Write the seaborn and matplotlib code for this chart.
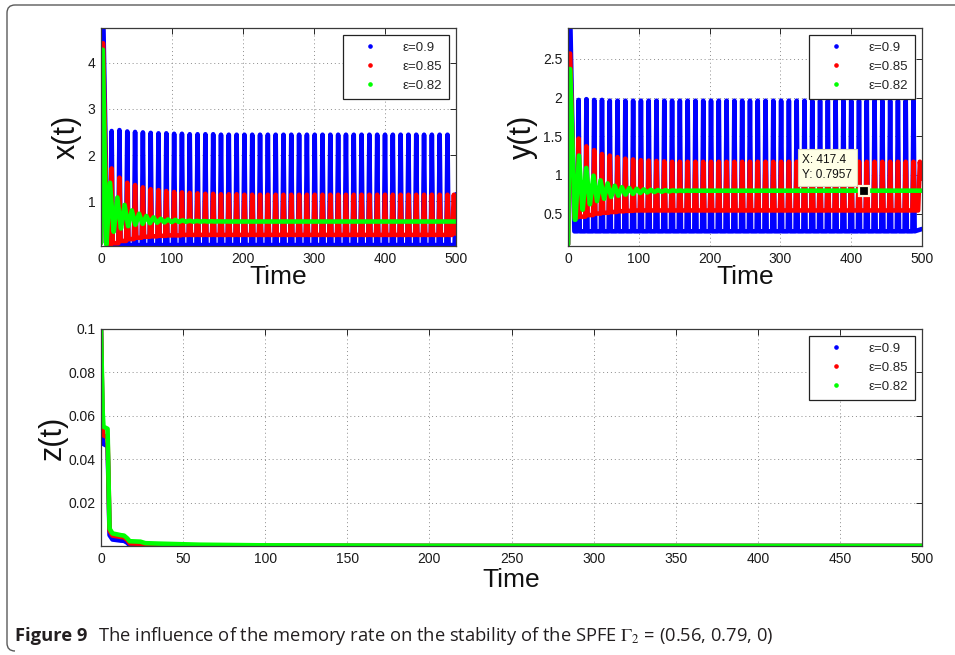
import matplotlib
matplotlib.use("Agg")
import matplotlib.pyplot as plt
import seaborn as sns
import numpy as np
import pandas as pd
from matplotlib.lines import Line2D
from matplotlib.path import Path
from matplotlib.patches import PathPatch

# ---------------- data ----------------
labels = ["ε=0.9", "ε=0.85", "ε=0.82"]
colors = ["#0000ff", "#ff0000", "#00ff00"]

# times of the oscillation peaks (blue / red)
cycle_t = [15, 26, 37, 48, 59, 70, 81, 92, 103, 114, 125, 136, 147, 158, 169,
           180, 191, 202, 213, 224, 235, 246, 257, 268, 279, 290, 301, 312,
           323, 334, 345, 356, 367, 378, 389, 400, 411, 422, 433, 444, 455,
           466, 477, 488]

# ---- x(t) ----
xb_init_t = [0, 3.5, 9]
xb_init_v = [0.10, 4.72, 0.05]
xb_peaks = [2.52, 2.54, 2.51, 2.50, 2.49, 2.48, 2.47, 2.47, 2.46, 2.46, 2.45,
            2.45, 2.45, 2.45, 2.44, 2.44, 2.44, 2.44, 2.44, 2.44, 2.44, 2.44,
            2.44, 2.44, 2.44, 2.44, 2.44, 2.44, 2.44, 2.44, 2.44, 2.44, 2.44,
            2.44, 2.44, 2.44, 2.44, 2.44, 2.44, 2.44, 2.44, 2.44, 2.44, 2.44]
xb_troughs = [0.05, 0.05, 0.05, 0.05, 0.05, 0.05, 0.05, 0.05, 0.05, 0.05, 0.05,
              0.05, 0.05, 0.05, 0.05, 0.05, 0.05, 0.05, 0.05, 0.05, 0.05, 0.05,
              0.05, 0.05, 0.05, 0.05, 0.05, 0.05, 0.05, 0.05, 0.05, 0.05, 0.05,
              0.05, 0.05, 0.05, 0.05, 0.05, 0.05, 0.05, 0.05, 0.05, 0.05, 0.05]
xb_end_t = [498, 500]
xb_end_v = [0.05, 1.15]

xr_init_t = [0, 3, 8.5]
xr_init_v = [0.10, 4.42, 0.05]
xr_peaks = [1.71, 1.51, 1.40, 1.35, 1.30, 1.26, 1.24, 1.22, 1.20, 1.19, 1.18,
            1.17, 1.16, 1.16, 1.15, 1.15, 1.15, 1.14, 1.14, 1.14, 1.14, 1.14,
            1.14, 1.14, 1.14, 1.14, 1.14, 1.14, 1.14, 1.14, 1.14, 1.14, 1.14,
            1.14, 1.14, 1.14, 1.14, 1.14, 1.14, 1.14, 1.14, 1.14, 1.14, 1.14]
xr_troughs = [0.09, 0.14, 0.18, 0.21, 0.23, 0.24, 0.25, 0.26, 0.26, 0.27, 0.27,
              0.27, 0.27, 0.27, 0.27, 0.27, 0.27, 0.27, 0.27, 0.27, 0.27, 0.27,
              0.27, 0.27, 0.27, 0.27, 0.27, 0.27, 0.27, 0.27, 0.27, 0.27, 0.27,
              0.27, 0.27, 0.27, 0.27, 0.27, 0.27, 0.27, 0.27, 0.27, 0.27, 0.27]
xr_end_t = [494.5, 497, 499.5, 500]
xr_end_v = [0.27, 1.14, 0.30, 0.30]

xg_init_t = [0, 2.5, 7.5]
xg_init_v = [0.10, 4.28, 0.06]
xg_peak_t = [12.7, 23, 33.2, 43.4, 53.6, 63.8, 74, 84.2, 94.4, 104.6, 114.8,
             125, 135.2, 145.4, 155.6, 165.8, 176]
xg_peaks = [1.40, 1.08, 0.92, 0.80, 0.73, 0.68, 0.65, 0.62, 0.605, 0.595,
            0.585, 0.578, 0.573, 0.569, 0.566, 0.564, 0.562]
xg_troughs = [0.34, 0.41, 0.46, 0.49, 0.51, 0.525, 0.535, 0.542, 0.548, 0.552,
              0.555, 0.557, 0.558, 0.559, 0.56, 0.56, 0.56]
xg_end_t = [500]
xg_end_v = [0.56]

# ---- y(t) ----
yb_init_t = [0, 3.5, 9]
yb_init_v = [0.10, 2.88, 0.27]
yb_peaks = [1.97, 1.98, 1.97, 1.97, 1.96, 1.96, 1.96, 1.96, 1.96, 1.96, 1.96,
            1.96, 1.96, 1.96, 1.96, 1.96, 1.96, 1.96, 1.96, 1.96, 1.96, 1.96,
            1.96, 1.96, 1.96, 1.96, 1.96, 1.96, 1.96, 1.96, 1.96, 1.96, 1.96,
            1.96, 1.96, 1.96, 1.96, 1.96, 1.96, 1.96, 1.96, 1.96, 1.96, 1.96]
yb_troughs = [0.27, 0.27, 0.27, 0.27, 0.27, 0.27, 0.27, 0.27, 0.27, 0.27, 0.27,
              0.27, 0.27, 0.27, 0.27, 0.27, 0.27, 0.27, 0.27, 0.27, 0.27, 0.27,
              0.27, 0.27, 0.27, 0.27, 0.27, 0.27, 0.27, 0.27, 0.27, 0.27, 0.27,
              0.27, 0.27, 0.27, 0.27, 0.27, 0.27, 0.27, 0.27, 0.27, 0.27, 0.27]
yb_end_t = [500]
yb_end_v = [0.30]

yr_init_t = [0, 3, 9]
yr_init_v = [0.10, 2.57, 0.45]
yr_peaks = [1.47, 1.37, 1.32, 1.27, 1.25, 1.23, 1.21, 1.20, 1.19, 1.185, 1.18,
            1.175, 1.17, 1.17, 1.17, 1.17, 1.17, 1.17, 1.17, 1.17, 1.17, 1.17,
            1.17, 1.17, 1.17, 1.17, 1.17, 1.17, 1.17, 1.17, 1.17, 1.17, 1.17,
            1.17, 1.17, 1.17, 1.17, 1.17, 1.17, 1.17, 1.17, 1.17, 1.17, 1.17]
yr_troughs = [0.46, 0.48, 0.50, 0.51, 0.52, 0.53, 0.535, 0.54, 0.54, 0.54, 0.54,
              0.54, 0.54, 0.54, 0.54, 0.54, 0.54, 0.54, 0.54, 0.54, 0.54, 0.54,
              0.54, 0.54, 0.54, 0.54, 0.54, 0.54, 0.54, 0.54, 0.54, 0.54, 0.54,
              0.54, 0.54, 0.54, 0.54, 0.54, 0.54, 0.54, 0.54, 0.54, 0.54, 0.54]
yr_end_t = [494.5, 497, 500]
yr_end_v = [0.54, 1.17, 0.95]

yg_init_t = [0, 3, 9.5]
yg_init_v = [0.10, 2.37, 0.42]
yg_peak_t = [15.5, 25.8, 36, 46, 56, 66, 76, 86.5, 97, 107, 117, 127, 137.5,
             148, 158, 168, 178]
yg_peaks = [1.25, 1.09, 0.99, 0.93, 0.89, 0.86, 0.84, 0.83, 0.82, 0.812, 0.807,
            0.804, 0.801, 0.799, 0.798, 0.797, 0.796]
yg_troughs = [0.55, 0.62, 0.66, 0.69, 0.715, 0.73, 0.745, 0.755, 0.765, 0.772,
              0.778, 0.783, 0.787, 0.79, 0.792, 0.794, 0.795]
yg_end_t = [500]
yg_end_v = [0.7957]

# ---- z(t) ----
z_t = [0, 1, 1.5, 4, 4.6, 5.2, 7, 12, 14, 16, 17.5, 24, 27, 35, 60, 100, 200, 500]
z_blue = [0.1, 0.050, 0.047, 0.046, 0.027, 0.005, 0.003, 0.0025, 0.0024, 0.0015,
          0.0003, 0.0003, 0.0002, 0.0001, 0.00005, 0.00002, 0.0, 0.0]
z_red = [0.1, 0.055, 0.051, 0.050, 0.030, 0.007, 0.0048, 0.0042, 0.0040, 0.0028,
         0.0012, 0.0010, 0.0007, 0.0005, 0.0002, 0.0001, 0.00003, 0.0]
z_green = [0.1, 0.062, 0.055, 0.054, 0.030, 0.008, 0.0058, 0.0050, 0.0048, 0.0035,
           0.0022, 0.0020, 0.0013, 0.0011, 0.0006, 0.0003, 0.0001, 0.00003]

# data tip
tip_x, tip_y = 417.4, 0.7957

# ticks
top_xticks = [0, 100, 200, 300, 400, 500]
x_yticks = [1, 2, 3, 4]
y_yticks = [0.5, 1, 1.5, 2, 2.5]
y_yticklabels = ["0.5", "1", "1.5", "2", "2.5"]
z_xticks = [0, 50, 100, 150, 200, 250, 300, 350, 400, 450, 500]
z_yticks = [0.02, 0.04, 0.06, 0.08, 0.1]
z_yticklabels = ["0.02", "0.04", "0.06", "0.08", "0.1"]


def build(init_t, init_v, pk_t, pk_v, tr_v, w, end_t, end_v):
    ts, vs = list(init_t), list(init_v)
    prev = init_v[-1]
    for tp, p, tr in zip(pk_t, pk_v, tr_v):
        ts += [tp - w, tp, tp + w]
        vs += [prev, p, tr]
        prev = tr
    ts += list(end_t)
    vs += list(end_v)
    return ts, vs


# ---------------- style ----------------
sns.set_style("white")
plt.rcParams["font.family"] = ["Liberation Sans", "DejaVu Sans"]
plt.rcParams["mathtext.fontset"] = "stix"

W, H = 955, 655
fig = plt.figure(figsize=(W / 100, H / 100), dpi=100)


def rect(l, t, r, b):
    return [l / W, 1 - b / H, (r - l) / W, (b - t) / H]


ax1 = fig.add_axes(rect(101, 28, 456, 246))
ax2 = fig.add_axes(rect(568, 28, 922, 246))
ax3 = fig.add_axes(rect(101, 329, 922, 546))

LW = 3.3
SPIKE_W = 1.6


def draw(ax, ts, vs, color):
    sns.lineplot(x=ts, y=vs, ax=ax, color=color, lw=LW, sort=False,
                 estimator=None, errorbar=None, legend=False)


# x(t)
draw(ax1, *build(xb_init_t, xb_init_v, cycle_t, xb_peaks, xb_troughs, SPIKE_W, xb_end_t, xb_end_v), colors[0])
draw(ax1, *build(xr_init_t, xr_init_v, cycle_t, xr_peaks, xr_troughs, SPIKE_W, xr_end_t, xr_end_v), colors[1])
draw(ax1, *build(xg_init_t, xg_init_v, xg_peak_t, xg_peaks, xg_troughs, 5.0, xg_end_t, xg_end_v), colors[2])
# y(t)
draw(ax2, *build(yb_init_t, yb_init_v, cycle_t, yb_peaks, yb_troughs, SPIKE_W, yb_end_t, yb_end_v), colors[0])
draw(ax2, *build(yr_init_t, yr_init_v, cycle_t, yr_peaks, yr_troughs, SPIKE_W, yr_end_t, yr_end_v), colors[1])
draw(ax2, *build(yg_init_t, yg_init_v, yg_peak_t, yg_peaks, yg_troughs, 5.0, yg_end_t, yg_end_v), colors[2])
# z(t)
for vals, c in zip([z_blue, z_red, z_green], colors):
    draw(ax3, z_t, vals, c)

ax1.set_xlim(0, 500); ax1.set_ylim(0.03, 4.75)
ax2.set_xlim(0, 500); ax2.set_ylim(0.08, 2.9)
ax3.set_xlim(0, 500); ax3.set_ylim(0, 0.1)

ax1.set_xticks(top_xticks); ax1.set_yticks(x_yticks)
ax2.set_xticks(top_xticks); ax2.set_yticks(y_yticks); ax2.set_yticklabels(y_yticklabels)
ax3.set_xticks(z_xticks); ax3.set_yticks(z_yticks); ax3.set_yticklabels(z_yticklabels)

for ax in (ax1, ax2, ax3):
    ax.grid(True, linestyle=(0, (1, 3)), color="#8c8c8c", lw=0.7)
    ax.set_axisbelow(True)
    ax.tick_params(direction="in", top=True, right=True, length=4, width=0.7,
                   labelsize=10, colors="#262626", labelcolor="#1a1a1a", pad=4)
    for s in ax.spines.values():
        s.set_color("#3a3a3a")
        s.set_linewidth(0.9)
    ax.set_xlabel("Time", fontsize=19, color="#111111")
    handles = [Line2D([], [], ls="none", marker="o", ms=2.3, color=c) for c in colors]
    leg = ax.legend(handles, labels, loc="upper right", fontsize=9.5,
                    frameon=True, fancybox=False, framealpha=1,
                    edgecolor="#222222", borderpad=0.55, handlelength=3.0,
                    handletextpad=1.0, labelspacing=0.5, borderaxespad=0.5)
    leg.get_frame().set_linewidth(0.9)

ax1.set_ylabel("x(t)", fontsize=22, color="#111111")
ax2.set_ylabel("y(t)", fontsize=22, color="#111111")
ax3.set_ylabel("z(t)", fontsize=22, color="#111111")

ax1.xaxis.set_label_coords(0.5, -0.085)
ax2.xaxis.set_label_coords(0.5, -0.085)
ax3.xaxis.set_label_coords(0.5, -0.1)
ax1.yaxis.set_label_coords(-0.055, 0.5)
ax2.yaxis.set_label_coords(-0.085, 0.5)
ax3.yaxis.set_label_coords(-0.041, 0.5)

# data tip
ax2.plot([tip_x], [tip_y], marker="s", ms=6.5, mfc="black", mec="#fff8dc",
         mew=1.6, ls="none", zorder=6)
ax2.annotate(f"X: {tip_x}\nY: {tip_y}", xy=(tip_x, tip_y), xytext=(-8, 7),
             textcoords="offset points", ha="right", va="bottom", fontsize=8.5,
             multialignment="left", color="#111111", linespacing=1.35, zorder=7,
             bbox=dict(boxstyle="square,pad=0.4", fc="#ffffe6", ec="#d8d3b5", lw=0.8))

# figure border (rounded top-left corner)
def fp(x, y):
    return (x / W, 1 - y / H)

verts = [fp(956, 5), fp(15, 5), fp(7, 5), fp(7, 13), fp(7, 643), fp(7, 651), fp(15, 651)]
codes = [Path.MOVETO, Path.LINETO, Path.CURVE3, Path.CURVE3, Path.LINETO,
         Path.CURVE3, Path.CURVE3]
fig.add_artist(PathPatch(Path(verts, codes), transform=fig.transFigure,
                         fill=False, edgecolor="#5a5a5a", lw=1.0))

# caption
CAP = 13.2
t1 = fig.text(15 / W, 1 - 641 / H, "Figure 9", fontsize=CAP, fontweight="bold",
              family=["Open Sans", "DejaVu Sans"], color="#231f20", va="baseline")
fig.canvas.draw()
bb = t1.get_window_extent()
fig.text((bb.x1 + 11) / W, 1 - 641 / H,
         r"The influence of the memory rate on the stability of the SPFE $\Gamma_2$ = (0.56, 0.79, 0)",
         fontsize=CAP, family=["Open Sans", "DejaVu Sans"], color="#231f20", va="baseline")

fig.savefig("out.png", dpi=100)
